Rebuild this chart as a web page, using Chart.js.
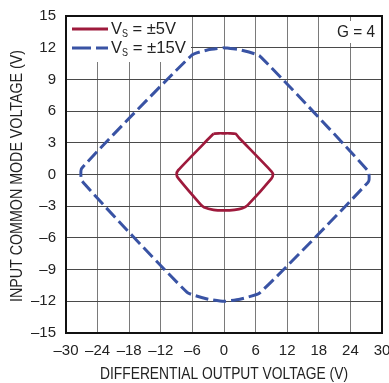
<!DOCTYPE html>
<html>
<head>
<meta charset="utf-8">
<script src="https://cdn.jsdelivr.net/npm/chart.js@4.4.1/dist/chart.umd.min.js"></script>
<style>
  html, body { margin: 0; padding: 0; background: white; }
  #wrap { position: relative; width: 389px; height: 383px; }
</style>
</head>
<body>
<div id="wrap"><canvas id="c"></canvas></div>
<script>
// Input common mode range vs differential output voltage, G = 4

const xTicks = [-30, -24, -18, -12, -6, 0, 6, 12, 18, 24, 30];
const yTicks = [-15, -12, -9, -6, -3, 0, 3, 6, 9, 12, 15];

// VS = ±5V contour (differential out, common mode in)
const vs5X = [-2.0, -1.0, 0, 1.0, 2.2, 2.8, 9.0, 9.3, 9.0, 4.5, 3.5, 2.0, 0, -2.0, -3.8, -4.5, -8.7, -9.0, -8.7, -2.7, -2.0];
const vs5Y = [3.85, 3.9, 3.9, 3.9, 3.85, 3.5, 0.3, 0, -0.4, -2.9, -3.2, -3.35, -3.4, -3.35, -3.1, -2.8, -0.35, 0, 0.4, 3.5, 3.85];

// VS = ±15V contour
const vs15X = [0, 3.0, 6.8, 27.4, 27.4, 6.8, 3.0, 0, -3.0, -7.0, -27.0, -27.0, -6.1, -3.0, 0];
const vs15Y = [12, 11.8, 11.2, 0.3, -0.7, -11.2, -11.8, -12, -11.8, -11.15, -0.6, 0.6, 11.3, 11.8, 12];

const seriesNames = ['±5V', '±15V'];
const gainLabel = 'G = 4';

const FONT = '"Liberation Sans", Arial, sans-serif';
const RED = '#9e1a3c';
const BLUE = '#3953a4';

function pts(xs, ys) {
    return xs.map(function (x, i) { return { x: x, y: ys[i] }; });
}
function minus(v) {
    return v < 0 ? '\u2013' + Math.abs(v) : String(v);
}

const overlay = {
    id: 'overlay',
    beforeDatasetsDraw: function (chart) {
        const ctx = chart.ctx;
        const a = chart.chartArea;
        ctx.save();
        // white boxes behind legend and gain label
        ctx.fillStyle = 'white';
        ctx.fillRect(a.left + 1, a.top + 1, 124, 45);
        ctx.fillRect(334, a.top + 5, 44, 22);
        ctx.restore();
    },
    afterDatasetsDraw: function (chart) {
        const ctx = chart.ctx;
        const a = chart.chartArea;
        ctx.save();
        // frame
        ctx.strokeStyle = '#111';
        ctx.lineWidth = 2;
        ctx.strokeRect(a.left, a.top, a.right - a.left, a.bottom - a.top);

        // legend
        ctx.lineWidth = 3;
        ctx.strokeStyle = RED;
        ctx.setLineDash([]);
        ctx.beginPath(); ctx.moveTo(72, 29); ctx.lineTo(108, 29); ctx.stroke();
        ctx.strokeStyle = BLUE;
        ctx.setLineDash([19, 5]);
        ctx.beginPath(); ctx.moveTo(72, 48); ctx.lineTo(108, 48); ctx.stroke();
        ctx.setLineDash([]);

        ctx.fillStyle = '#222';
        ctx.textBaseline = 'middle';
        ctx.textAlign = 'left';
        [29, 48].forEach(function (y, i) {
            let x = 111;
            ctx.font = '17px ' + FONT;
            ctx.fillText('V', x, y, 11);
            x += 11;
            ctx.font = '11px ' + FONT;
            ctx.fillText('S', x, y + 5, 6);
            x += 6;
            ctx.font = '17px ' + FONT;
            ctx.fillText(' = ' + seriesNames[i], x, y, i === 0 ? 48 : 58);
        });
        ctx.textAlign = 'right';
        ctx.fillText(gainLabel, 375, 32, 38);

        // axis titles
        ctx.font = '16px ' + FONT;
        ctx.textAlign = 'center';
        ctx.fillText('DIFFERENTIAL OUTPUT VOLTAGE (V)', 224, 375, 248);
        ctx.translate(18, 176);
        ctx.rotate(-Math.PI / 2);
        ctx.fillText('INPUT COMMON MODE VOLTAGE (V)', 0, 0, 252);
        ctx.restore();
    }
};

new Chart(document.getElementById('c'), {
    type: 'scatter',
    data: {
        datasets: [
            {
                label: 'VS = ' + seriesNames[0],
                data: pts(vs5X, vs5Y),
                showLine: true,
                borderColor: RED,
                borderWidth: 2.7,
                pointRadius: 0,
                tension: 0.2,
                fill: false
            },
            {
                label: 'VS = ' + seriesNames[1],
                data: pts(vs15X, vs15Y),
                showLine: true,
                borderColor: BLUE,
                borderWidth: 3,
                borderDash: [13, 5],
                pointRadius: 0,
                tension: 0.15,
                fill: false
            }
        ]
    },
    options: {
        responsive: true,
        maintainAspectRatio: false,
        animation: false,
        layout: { padding: { left: 0, right: 7, top: 16, bottom: 0 } },
        plugins: { legend: { display: false }, tooltip: { enabled: false } },
        scales: {
            x: {
                type: 'linear',
                min: -30, max: 30,
                afterBuildTicks: function (s) { s.ticks = xTicks.map(function (v) { return { value: v }; }); },
                afterFit: function (s) {
                    s.height = 50;
                    s.paddingLeft = 0; s.paddingRight = 0;
                },
                grid: { color: '#7a7a7a', lineWidth: 1, drawTicks: false },
                border: { display: false },
                ticks: {
                    padding: 9,
                    color: '#222',
                    maxRotation: 0,
                    minRotation: 0,
                    autoSkip: false,
                    font: { family: FONT, size: 15 },
                    callback: function (v) { return minus(v); }
                }
            },
            y: {
                type: 'linear',
                min: -15, max: 15,
                afterBuildTicks: function (s) { s.ticks = yTicks.map(function (v) { return { value: v }; }); },
                afterFit: function (s) {
                    s.width = 66;
                    s.paddingTop = 0; s.paddingBottom = 0;
                },
                grid: { color: '#4a4a4a', lineWidth: 1, drawTicks: false },
                border: { display: false },
                ticks: {
                    padding: 10,
                    color: '#222',
                    autoSkip: false,
                    font: { family: FONT, size: 15 },
                    callback: function (v) { return minus(v); }
                }
            }
        }
    },
    plugins: [overlay]
});
</script>
</body>
</html>
